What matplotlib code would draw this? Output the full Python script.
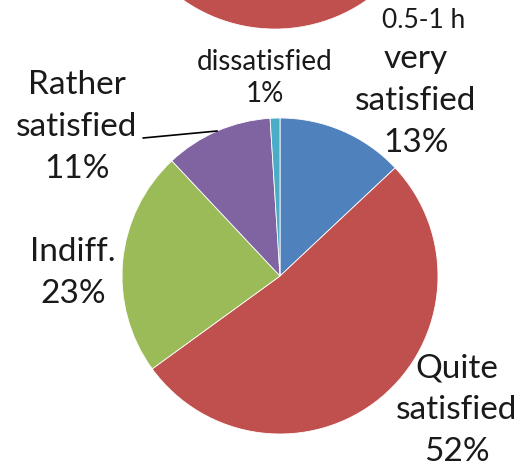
import matplotlib
matplotlib.use("Agg")
import matplotlib.pyplot as plt
import numpy as np

# satisfaction shares, clockwise from 12 o'clock
labels = ["very\nsatisfied", "Quite\nsatisfied", "Indiff.", "Rather\nsatisfied", "dissatisfied"]
shares = [13, 52, 23, 11, 1]
colors = ["#4F81BD", "#C0504D", "#9BBB59", "#8064A2", "#4BACC6"]

# the chart above is cut off, only its red slice shows
top_shares = [1]
top_colors = ["#C0504D"]
top_label = "0.5-1 h"

W, H = 520, 470
plt.rcParams['font.family'] = ['Lato', 'DejaVu Sans']
fig = plt.figure(figsize=(W / 100, H / 100), dpi=100)


def px_axes(cx, cy, r):
    # axes box in figure fraction for a pie of radius r centred at pixel (cx, cy)
    return [(cx - r) / W, (H - cy - r) / H, 2 * r / W, 2 * r / H]


def fx(x, y):
    return x / W, 1 - y / H


# cut-off pie at the top
ax_top = fig.add_axes(px_axes(275, -131, 160))
ax_top.pie(top_shares, colors=top_colors, startangle=90,
           wedgeprops=dict(edgecolor="white", linewidth=0.5))
ax_top.set_xlim(-1, 1)
ax_top.set_ylim(-1, 1)
ax_top.axis("off")

# main pie
ax = fig.add_axes(px_axes(280, 276, 158))
wedges, _ = ax.pie(shares, colors=colors, startangle=90, counterclock=False,
                   wedgeprops=dict(edgecolor="white", linewidth=0.6))
ax.set_xlim(-1, 1)
ax.set_ylim(-1, 1)
ax.axis("off")

big = 24
small = 20
fig.text(*fx(424, 21), top_label, fontsize=19, ha="center", va="center",
         color="#1a1a1a")

label_pos = [(416, 101), (457, 410), (73, 273), (77, 127), (265, 78)]
for i, (lab, val) in enumerate(zip(labels, shares)):
    txt = f"{lab}\n{val}%"
    size = small if i == 4 else big
    ls = 1.3 if i == 4 else 1.5
    fig.text(*fx(*label_pos[i]), txt, fontsize=size, ha="center", va="center",
             linespacing=ls, color="#1a1a1a")

# leader line for "Rather satisfied"
w = wedges[3]
mid = np.deg2rad((w.theta1 + w.theta2) / 2)
ax.annotate("", xy=(np.cos(mid), np.sin(mid)), xycoords="data",
            xytext=fx(143, 138), textcoords="figure fraction",
            arrowprops=dict(arrowstyle="-", color="black", lw=1.2,
                            shrinkA=0, shrinkB=0))

fig.savefig("out.png", dpi=100)
